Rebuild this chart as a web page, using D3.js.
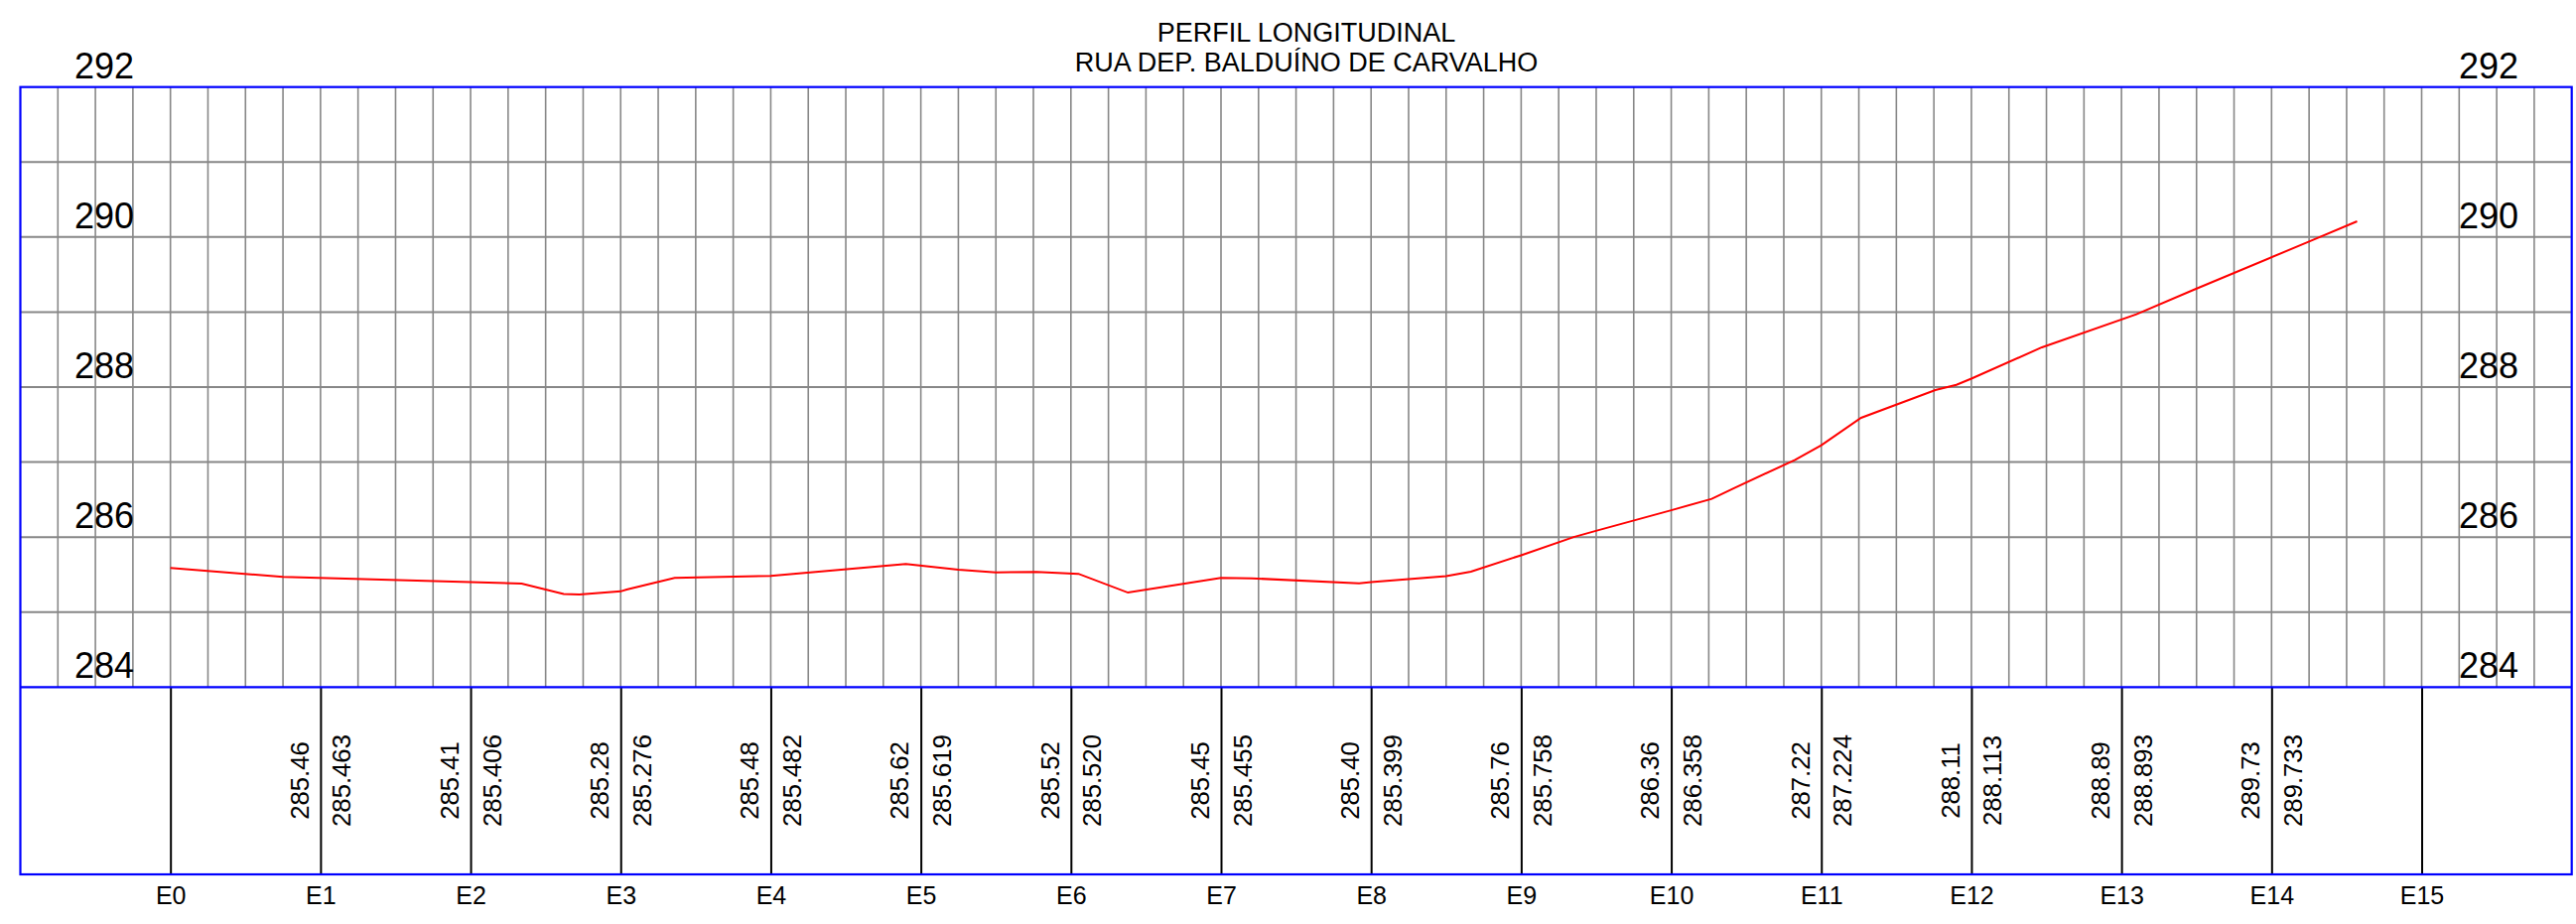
<!DOCTYPE html>
<html lang="pt">
<head>
    <meta charset="UTF-8">
    <title>Perfil Longitudinal</title>
    <script src="https://d3js.org/d3.v7.min.js"></script>
    <style>
        body {
            margin: 0;
            padding: 0;
            background-color: #fff;
        }
        #chart text {
            font-family: 'Liberation Sans', Arial, Helvetica, sans-serif;
            fill: #000;
        }
    </style>
</head>
<body>
    <div id="chart"></div>

    <script>
        // ground profile: distance (m) and elevation (m)
        const profileDist = [0, 15, 46.8, 52.4, 54.5, 60, 60.8, 67.2, 80, 98, 105, 110, 115.4, 121, 127.6,
            140, 144.1, 158.4, 160, 170, 173.3, 180, 187, 190.2, 200, 205.4, 208.3, 216.5, 220, 225.3,
            235.2, 238, 240, 249.4, 262, 269.7, 285, 291.4];
        const profileElev = [285.59, 285.47, 285.38, 285.24, 285.235, 285.276, 285.30, 285.455, 285.482, 285.64,
            285.565, 285.53, 285.535, 285.51, 285.26, 285.455, 285.45, 285.385, 285.399, 285.48, 285.54,
            285.758, 286.0, 286.09, 286.358, 286.51, 286.65, 287.03, 287.224, 287.59, 287.96, 288.03,
            288.113, 288.53, 288.97, 289.30, 289.94, 290.21];

        // stations every 20 m
        const stationNames = ["E0", "E1", "E2", "E3", "E4", "E5", "E6", "E7", "E8", "E9", "E10",
            "E11", "E12", "E13", "E14", "E15"];
        const stationDist = [0, 20, 40, 60, 80, 100, 120, 140, 160, 180, 200, 220, 240, 260, 280, 300];
        const terrainShort = ["", "285.46", "285.41", "285.28", "285.48", "285.62", "285.52", "285.45",
            "285.40", "285.76", "286.36", "287.22", "288.11", "288.89", "289.73", ""];
        const terrainLong = ["", "285.463", "285.406", "285.276", "285.482", "285.619", "285.520", "285.455",
            "285.399", "285.758", "286.358", "287.224", "288.113", "288.893", "289.733", ""];

        const elevLabels = [284, 286, 288, 290, 292];
        const titleLines = ["PERFIL LONGITUDINAL", "RUA DEP. BALDUÍNO DE CARVALHO"];

        const width = 2595;
        const height = 931;
        const tableBottom = 881;

        const x = d3.scaleLinear().domain([-20, 320]).range([20.5, 2590.7]);
        const y = d3.scaleLinear().domain([284, 292]).range([692.3, 87.7]);

        const svg = d3.select("#chart")
            .append("svg")
            .attr("width", width)
            .attr("height", height);

        // grid, 5 m across and 1 m up
        const grid = svg.append("g");
        grid.selectAll("line.v")
            .data(d3.range(-15, 320, 5))
            .enter().append("line")
            .attr("x1", d => x(d)).attr("x2", d => x(d))
            .attr("y1", y(292)).attr("y2", y(284))
            .attr("stroke", "#878787")
            .attr("stroke-width", 1.6);
        grid.selectAll("line.h")
            .data(d3.range(285, 292, 1))
            .enter().append("line")
            .attr("x1", x(-20)).attr("x2", x(320))
            .attr("y1", d => y(d)).attr("y2", d => y(d))
            .attr("stroke", "#878787")
            .attr("stroke-width", 2);

        // station lines and names
        const stationAxis = d3.axisBottom(x)
            .tickValues(stationDist)
            .tickSize(-(tableBottom - y(284)))
            .tickPadding(12)
            .tickFormat((d, i) => stationNames[i]);

        const axisG = svg.append("g")
            .attr("transform", `translate(0,${tableBottom})`)
            .call(stationAxis);
        axisG.select(".domain").remove();
        axisG.selectAll(".tick line")
            .attr("stroke", "#000")
            .attr("stroke-width", 2);
        axisG.selectAll(".tick text")
            .attr("font-size", "25px")
            .style("font-family", "'Liberation Sans', Arial, sans-serif");

        // terrain values in the table
        const labelY = 786.5;
        const labels = svg.append("g")
            .attr("font-size", "25.7px")
            .attr("text-anchor", "middle");
        stationDist.forEach((d, i) => {
            if (!terrainShort[i]) return;
            labels.append("text")
                .attr("transform", `translate(${x(d) - 12.2},${labelY}) rotate(-90)`)
                .text(terrainShort[i]);
            labels.append("text")
                .attr("transform", `translate(${x(d) + 30.5},${labelY}) rotate(-90)`)
                .text(terrainLong[i]);
        });

        // ground line
        const line = d3.line()
            .x((d, i) => x(profileDist[i]))
            .y(d => y(d));
        svg.append("path")
            .datum(profileElev)
            .attr("d", line)
            .attr("fill", "none")
            .attr("stroke", "#ff0000")
            .attr("stroke-width", 2);

        // blue frame
        const frame = svg.append("g")
            .attr("stroke", "#0000ff")
            .attr("stroke-width", 2.2)
            .attr("fill", "none");
        frame.append("rect")
            .attr("x", x(-20)).attr("y", y(292))
            .attr("width", x(320) - x(-20))
            .attr("height", tableBottom - y(292));
        frame.append("line")
            .attr("x1", x(-20)).attr("x2", x(320))
            .attr("y1", y(284)).attr("y2", y(284));

        // elevation labels, both sides
        const elevG = svg.append("g")
            .attr("font-size", "36px")
            .attr("text-anchor", "middle");
        elevG.selectAll("text.l")
            .data(elevLabels)
            .enter().append("text")
            .attr("x", 105)
            .attr("y", d => y(d) - 9)
            .text(d => d);
        elevG.selectAll("text.r")
            .data(elevLabels)
            .enter().append("text")
            .attr("x", 2507)
            .attr("y", d => y(d) - 9)
            .text(d => d);

        // title
        svg.append("g")
            .attr("font-size", "27px")
            .attr("text-anchor", "middle")
            .selectAll("text")
            .data(titleLines)
            .enter().append("text")
            .attr("x", 1316)
            .attr("y", (d, i) => 41.5 + i * 30)
            .text(d => d);
    </script>
</body>
</html>
